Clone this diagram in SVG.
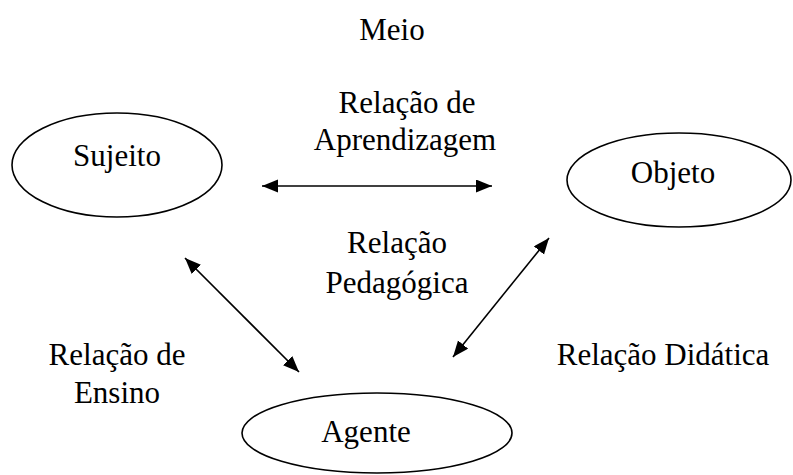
<svg xmlns="http://www.w3.org/2000/svg" width="793" height="475" viewBox="0 0 793 475">
<style>
text{font-size:31px;fill:#000;text-anchor:middle}
.n ellipse{fill:#fff;stroke:#000;stroke-width:1.6}
.c line{stroke:#000;stroke-width:1.6}
</style>
<defs>
<marker id="ah" markerUnits="userSpaceOnUse" markerWidth="18" markerHeight="14" refX="16" refY="6.5" orient="auto-start-reverse">
<path d="M0,0 L16,6.5 L0,13 z" fill="#000"/>
</marker>
</defs>
<g font-family="Liberation Serif, DejaVu Serif, serif">
<g id="meio"><text x="392" y="40">Meio</text></g>
<g id="sujeito" class="n"><ellipse cx="117" cy="165" rx="105" ry="52"/><text x="117" y="166">Sujeito</text></g>
<g id="objeto" class="n"><ellipse cx="679" cy="180" rx="112" ry="47"/><text x="673" y="183">Objeto</text></g>
<g id="agente" class="n"><ellipse cx="377" cy="433" rx="135" ry="40"/><text x="366" y="442">Agente</text></g>
<g id="connectors" class="c">
<line x1="262" y1="186" x2="492" y2="186" marker-start="url(#ah)" marker-end="url(#ah)"/>
<line x1="185" y1="258" x2="299" y2="372" marker-start="url(#ah)" marker-end="url(#ah)"/>
<line x1="549" y1="238" x2="453" y2="357" marker-start="url(#ah)" marker-end="url(#ah)"/>
</g>
<g id="labels">
<text x="407" y="113">Relação de</text>
<text x="405" y="150">Aprendizagem</text>
<text x="397" y="253">Relação</text>
<text x="397" y="293">Pedagógica</text>
<text x="117" y="365">Relação de</text>
<text x="117" y="403">Ensino</text>
<text x="663" y="365">Relação Didática</text>
</g>
</g>
</svg>
